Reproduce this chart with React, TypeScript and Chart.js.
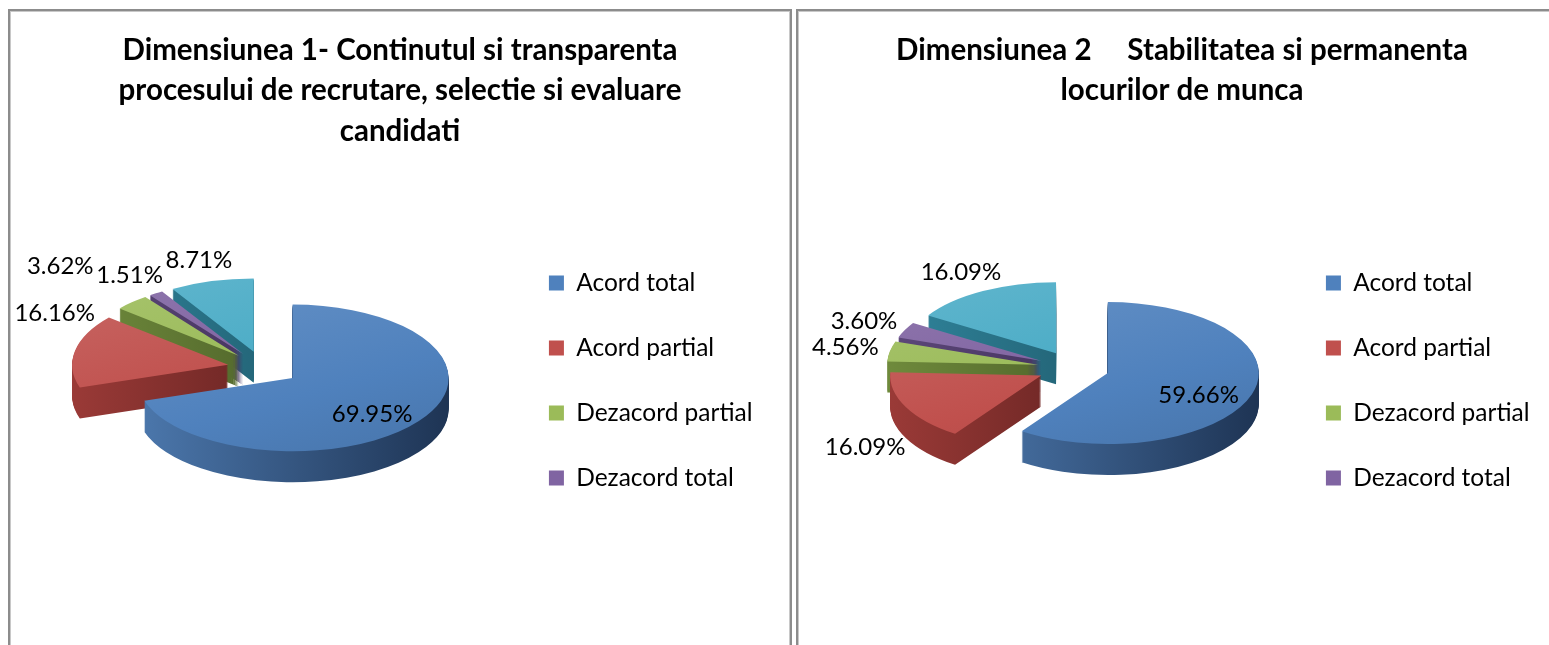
import React, { useEffect, useRef } from "react";
import { Chart, registerables } from "chart.js";

Chart.register(...registerables);

// ---------- data ----------
const categories = ["Acord total", "Acord partial", "Dezacord partial", "Dezacord total", "Nu stiu"];
const dim1Values = [69.95, 16.16, 3.62, 1.51, 8.71];
const dim2Values = [59.66, 16.09, 4.56, 3.6, 16.09];
const dim1Title = [
  "Dimensiunea 1- Continutul si transparenta",
  "procesului de recrutare, selectie si evaluare",
  "candidati",
];
const dim2Title = ["Dimensiunea 2     Stabilitatea si permanenta", "locurilor de munca"];
const legendCount = 4;

// ---------- styles ----------
const topColors = ["#4F81BD", "#C0504D", "#9BBB59", "#8064A2", "#4BACC6"];
const sideLight = ["#4c78ad", "#9a3a37", "#6f8a3c", "#5d477a", "#2f8299"];
const sideDark = ["#1e3454", "#4f1918", "#3c4d1f", "#33254a", "#1a4d5c"];
const FONT = "Lato";

function shade(hex: string, f: number) {
  const n = parseInt(hex.slice(1), 16);
  const ch = [(n >> 16) & 255, (n >> 8) & 255, n & 255].map((c) =>
    Math.round(f >= 0 ? c + (255 - c) * f : c * (1 + f))
  );
  return `rgb(${ch[0]},${ch[1]},${ch[2]})`;
}

// keep the chart title centred over the whole canvas, not only the plot region
const fullWidthTitle = {
  id: "fullWidthTitle",
  afterLayout(chart: any) {
    const t = chart.titleBlock;
    if (t) {
      t.left = 0;
      t.right = chart.width;
      t.width = chart.width;
    }
  },
};

const pie3d = {
  id: "pie3d",
  beforeDatasetDraw() {
    return false;
  },
  afterDatasetsDraw(chart: any, _args: any, opts: any) {
    const meta = chart.getDatasetMeta(0);
    const arcs = meta.data as any[];
    if (!arcs.length) return;
    const ctx: CanvasRenderingContext2D = chart.ctx;
    const k = opts.tilt;
    const depth = opts.depth;
    const ex = opts.explode;
    const cx = arcs[0].x;
    const cy = arcs[0].y;
    const R = arcs[0].outerRadius;
    const mids = arcs.map((a) => (a.startAngle + a.endAngle) / 2);
    const order = arcs.map((_, i) => i).sort((a, b) => Math.sin(mids[a]) - Math.sin(mids[b]));

    ctx.save();
    ctx.translate(0, cy);
    ctx.scale(1, k);
    ctx.translate(0, -cy);
    const drawArc = (i: number, fill: any, dy: number) => {
      const el = arcs[i];
      const fake = Object.create(el);
      fake.options = Object.assign({}, el.options, {
        backgroundColor: fill,
        borderWidth: 0,
        offset: 0,
        spacing: 0,
      });
      ctx.save();
      ctx.translate(Math.cos(mids[i]) * ex, Math.sin(mids[i]) * ex + dy);
      fake.draw(ctx);
      ctx.restore();
    };
    for (const i of order) {
      const g = ctx.createLinearGradient(cx - R, 0, cx + R, 0);
      g.addColorStop(0, sideLight[i]);
      g.addColorStop(1, sideDark[i]);
      for (let s = depth; s >= 1; s -= 1) drawArc(i, g, s / k);
    }
    for (const i of order) {
      const base = topColors[i];
      const g = ctx.createLinearGradient(cx - R * 0.6, cy - R, cx + R * 0.6, cy + R);
      g.addColorStop(0, shade(base, 0.1));
      g.addColorStop(0.6, base);
      g.addColorStop(1, shade(base, -0.08));
      drawArc(i, g, 0);
    }
    ctx.restore();

    // data labels
    const values = chart.data.datasets[0].data as number[];
    const fs = opts.labelSize;
    ctx.save();
    ctx.font = `${fs}px ${FONT}`;
    ctx.fillStyle = "#000";
    ctx.textAlign = "center";
    ctx.textBaseline = "middle";
    const placed: any[] = [];
    const W = chart.width;
    const step = Math.PI / 360;
    for (let i = arcs.length - 1; i >= 0; i--) {
      const v = values[i];
      const text = v.toFixed(2) + "%";
      const inside = v > 25;
      const d = ex + R * (inside ? 0.63 : 1.3);
      const pos = (a: number) => ({
        x: cx + Math.cos(a) * d,
        y: cy + Math.sin(a) * d * k + (inside ? depth * 0.3 : Math.sin(a) > 0 ? depth : 0),
      });
      const w = ctx.measureText(text).width;
      const h = fs;
      let a = mids[i];
      let p = pos(a);
      if (!inside) {
        // slide towards the top of the pie if the label would leave the canvas
        let g = 0;
        while ((p.x - w / 2 < 4 || p.x + w / 2 > W - 4) && g++ < 180) {
          a += Math.cos(a) < 0 ? step : -step;
          p = pos(a);
        }
        // push outwards while it collides with an already placed label
        const dx0 = Math.cos(mids[i]);
        const dy0 = Math.sin(mids[i]) * k;
        const len = Math.hypot(dx0, dy0) || 1;
        g = 0;
        while (
          placed.some((q) => Math.abs(q.x - p.x) < (q.w + w) / 2 + 2 && Math.abs(q.y - p.y) < (q.h + h) / 2) &&
          g++ < 200
        ) {
          p = { x: p.x + (dx0 / len) * 2, y: p.y + (dy0 / len) * 2 };
        }
        p.x = Math.max(w / 2 + 4, Math.min(W - w / 2 - 4, p.x));
      }
      placed.push({ x: p.x, y: p.y, w, h });
      ctx.fillText(text, p.x, p.y);
    }
    ctx.restore();
  },
};

function PieChart(props: {
  values: number[];
  title: string[];
  width: number;
  height: number;
  radius: number;
  titlePadBottom: number;
  padLeft: number;
  padRight: number;
}) {
  const ref = useRef<HTMLCanvasElement | null>(null);
  useEffect(() => {
    if (!ref.current) return;
    const chart = new Chart(ref.current, {
      type: "pie",
      data: {
        labels: categories,
        datasets: [
          {
            data: props.values,
            backgroundColor: topColors,
            borderWidth: 0,
            radius: props.radius,
          } as any,
        ],
      },
      options: {
        responsive: false,
        animation: false,
        events: [],
        layout: { padding: { left: props.padLeft, right: props.padRight, top: 0, bottom: 70.5 } },
        plugins: {
          title: {
            display: true,
            text: props.title,
            color: "#000",
            font: { family: FONT, size: 29.5, weight: "bold", lineHeight: 1.3729 },
            padding: { top: 19, bottom: props.titlePadBottom },
          },
          legend: {
            position: "right",
            fullSize: false,
            title: { display: true, text: " ", font: { size: 25, lineHeight: 1 }, padding: 0 },
            labels: {
              color: "#000",
              font: { family: FONT, size: 24.5 },
              boxWidth: 15,
              boxHeight: 15,
              padding: 40.5,
              filter: (item: any) => item.index < legendCount,
            },
          },
          tooltip: { enabled: false },
          pie3d: { tilt: 0.47, depth: 31, explode: 36, labelSize: 24 },
        } as any,
      },
      plugins: [pie3d as any, fullWidthTitle as any],
    });
    return () => chart.destroy();
  }, []);
  return <canvas ref={ref} width={props.width} height={props.height} style={{ display: "block" }} />;
}

const boxStyle: React.CSSProperties = {
  position: "fixed",
  top: 9,
  height: 700,
  boxSizing: "border-box",
  border: "2px solid #8c8c8c",
  borderBottom: "none",
  boxShadow: "inset 1px 0 0 #c8c8c8, inset -1px 0 0 #c8c8c8, inset 0 1px 0 #c8c8c8",
  background: "#fff",
};

export default function App() {
  return (
    <div>
      <div style={{ ...boxStyle, left: 8, width: 784 }}>
        <PieChart
          values={dim1Values}
          title={dim1Title}
          width={780}
          height={634}
          radius={156}
          titlePadBottom={10}
          padLeft={8.5}
          padRight={27.5}
        />
      </div>
      <div style={{ ...boxStyle, left: 796, width: 772 }}>
        <PieChart
          values={dim2Values}
          title={dim2Title}
          width={768}
          height={634}
          radius={151}
          titlePadBottom={50.5}
          padLeft={63.5}
          padRight={26.5}
        />
      </div>
    </div>
  );
}
